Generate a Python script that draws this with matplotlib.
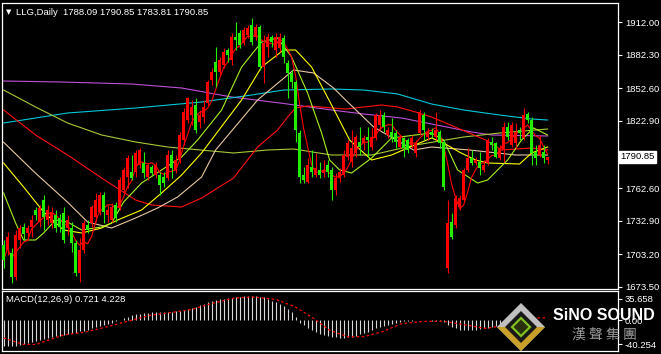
import numpy as np
import pandas as pd
import matplotlib.pyplot as plt
from matplotlib.patches import Polygon

# ---- daily candles ----
opens = [1711.3, 1706.8, 1704.1, 1682.5, 1715.8, 1727.5, 1722.1, 1727.5, 1742.8, 1732.0,
         1751.8, 1733.8, 1731.1, 1738.3, 1735.6, 1740.1, 1726.6, 1726.6, 1713.1, 1686.1,
         1706.8, 1729.3, 1731.1, 1736.5, 1741.0, 1756.3, 1738.3, 1733.8, 1747.3, 1744.6,
         1760.8, 1772.5, 1777.0, 1777.0, 1783.3, 1785.1, 1772.5, 1781.5, 1774.3, 1774.3,
         1772.5, 1771.6, 1792.3, 1778.8, 1787.8, 1805.8, 1823.8, 1828.3, 1837.3, 1822.0,
         1826.5, 1839.1, 1859.8, 1876.0, 1867.0, 1873.3, 1886.8, 1877.8, 1898.5, 1902.1,
         1893.1, 1900.3, 1909.3, 1898.5, 1907.5, 1871.5, 1889.5, 1898.5, 1886.8, 1888.6,
         1897.6, 1875.1, 1866.1, 1858.0, 1812.1, 1774.3, 1768.0, 1781.5, 1774.3, 1778.8,
         1776.1, 1783.3, 1778.8, 1760.8, 1771.6, 1774.3, 1790.5, 1786.0, 1794.1, 1804.0,
         1803.1, 1808.5, 1799.5, 1807.6, 1819.3, 1828.3, 1810.3, 1813.0, 1812.1, 1799.5,
         1807.6, 1805.8, 1801.3, 1794.1, 1812.1, 1828.3, 1808.5, 1813.0, 1808.5, 1813.0,
         1804.0, 1690.6, 1732.0, 1729.3, 1745.5, 1751.8, 1778.8, 1789.6, 1785.1, 1786.0,
         1778.8, 1785.1, 1804.0, 1803.1, 1789.6, 1796.8, 1817.5, 1801.3, 1803.1, 1814.8,
         1807.6, 1829.2, 1823.8, 1795.0, 1792.3, 1795.0, 1788.09]
highs = [1715.8, 1723.0, 1708.6, 1724.8, 1729.3, 1731.1, 1729.3, 1738.3, 1745.5, 1747.3,
         1756.3, 1747.3, 1745.5, 1742.8, 1739.2, 1745.5, 1738.3, 1732.0, 1715.8, 1717.6,
         1733.8, 1733.8, 1747.3, 1758.1, 1759.0, 1759.0, 1747.3, 1749.1, 1750.0, 1772.5,
         1781.5, 1792.3, 1792.3, 1796.8, 1798.6, 1795.0, 1785.1, 1783.3, 1786.0, 1777.0,
         1777.0, 1796.8, 1796.8, 1792.3, 1813.0, 1834.6, 1844.5, 1841.8, 1843.6, 1832.8,
         1841.8, 1859.8, 1870.6, 1889.5, 1880.5, 1888.6, 1888.6, 1902.1, 1912.0, 1904.8,
         1907.5, 1909.3, 1915.6, 1910.2, 1909.3, 1900.3, 1902.1, 1900.3, 1902.1, 1902.1,
         1900.3, 1877.8, 1868.8, 1859.8, 1814.8, 1781.5, 1789.6, 1796.8, 1794.1, 1786.0,
         1787.8, 1787.8, 1781.5, 1776.1, 1780.6, 1796.8, 1805.8, 1814.8, 1810.3, 1817.5,
         1810.3, 1817.5, 1816.6, 1830.1, 1832.8, 1831.0, 1817.5, 1825.6, 1814.8, 1810.3,
         1808.5, 1807.6, 1810.3, 1805.8, 1832.8, 1831.0, 1816.6, 1816.6, 1831.0, 1814.8,
         1805.8, 1751.8, 1740.1, 1756.3, 1756.3, 1780.6, 1798.6, 1796.8, 1790.5, 1795.0,
         1787.8, 1807.6, 1808.5, 1804.0, 1801.3, 1822.0, 1822.0, 1822.0, 1821.1, 1817.5,
         1834.6, 1831.0, 1826.5, 1801.3, 1810.3, 1801.3, 1790.85]
lows = [1690.6, 1702.3, 1677.1, 1679.8, 1708.6, 1715.8, 1715.8, 1718.5, 1733.8, 1727.5,
        1724.8, 1729.3, 1726.6, 1723.0, 1723.0, 1713.1, 1720.3, 1705.0, 1683.4, 1678.0,
        1704.1, 1722.1, 1727.5, 1732.0, 1738.3, 1731.1, 1732.0, 1732.0, 1732.0, 1742.8,
        1758.1, 1762.6, 1769.8, 1772.5, 1780.6, 1771.6, 1769.8, 1774.3, 1771.6, 1756.3,
        1763.5, 1769.8, 1771.6, 1776.1, 1785.1, 1801.3, 1821.1, 1819.3, 1812.1, 1816.6,
        1821.1, 1837.3, 1855.3, 1853.5, 1864.3, 1870.6, 1876.0, 1873.3, 1886.8, 1888.6,
        1891.3, 1897.6, 1891.3, 1895.8, 1868.8, 1857.1, 1880.5, 1889.5, 1880.5, 1885.0,
        1875.1, 1843.6, 1852.6, 1804.0, 1767.1, 1767.1, 1767.1, 1772.5, 1772.5, 1771.6,
        1772.5, 1772.5, 1751.8, 1756.3, 1768.0, 1772.5, 1787.8, 1781.5, 1790.5, 1792.3,
        1796.8, 1790.5, 1796.8, 1805.8, 1814.8, 1813.0, 1807.6, 1804.0, 1798.6, 1798.6,
        1790.5, 1794.1, 1798.6, 1790.5, 1810.3, 1805.8, 1805.8, 1807.6, 1805.8, 1798.6,
        1760.8, 1686.1, 1716.7, 1726.6, 1742.8, 1750.0, 1777.0, 1783.3, 1783.3, 1774.3,
        1777.0, 1783.3, 1796.8, 1789.6, 1787.8, 1786.0, 1805.8, 1799.5, 1798.6, 1805.8,
        1805.8, 1821.1, 1783.3, 1783.3, 1790.5, 1785.1, 1783.81]
closes = [1697.8, 1718.5, 1682.5, 1720.3, 1726.6, 1721.2, 1726.6, 1733.8, 1738.3, 1744.6,
          1736.5, 1742.8, 1741.0, 1726.6, 1727.5, 1715.8, 1733.8, 1713.1, 1686.1, 1706.8,
          1731.1, 1724.8, 1745.5, 1751.8, 1756.3, 1741.0, 1742.8, 1745.5, 1735.6, 1769.8,
          1778.8, 1789.6, 1771.6, 1794.1, 1796.8, 1776.1, 1783.3, 1776.1, 1783.3, 1765.3,
          1767.1, 1792.3, 1780.6, 1787.8, 1810.3, 1831.0, 1843.6, 1835.5, 1814.8, 1828.3,
          1835.5, 1858.0, 1867.0, 1867.0, 1877.8, 1885.0, 1882.3, 1898.5, 1895.8, 1891.3,
          1904.8, 1906.6, 1894.0, 1907.5, 1871.5, 1893.1, 1898.5, 1894.0, 1898.5, 1898.5,
          1880.5, 1866.1, 1858.0, 1814.8, 1772.5, 1769.8, 1783.3, 1777.0, 1780.6, 1774.3,
          1778.8, 1777.0, 1760.8, 1771.6, 1777.0, 1792.3, 1803.1, 1798.6, 1808.5, 1799.5,
          1807.6, 1805.8, 1808.5, 1828.3, 1828.3, 1817.5, 1814.8, 1808.5, 1804.0, 1808.5,
          1798.6, 1796.8, 1807.6, 1803.1, 1831.0, 1814.8, 1813.0, 1810.3, 1814.8, 1803.1,
          1763.5, 1731.1, 1718.5, 1753.6, 1753.6, 1778.8, 1789.6, 1785.1, 1787.8, 1780.6,
          1783.3, 1805.8, 1801.3, 1790.5, 1798.6, 1817.5, 1808.5, 1819.3, 1813.0, 1812.1,
          1828.3, 1823.8, 1794.1, 1789.6, 1801.3, 1789.6, 1790.85]

# ---- moving averages, read as (bar index, value) points ----
lime_i = [0, 3, 5, 8, 10, 13, 16, 19.5, 24.5, 27, 30, 34.5, 39.5, 44.5, 48.5, 54.5, 59.5, 64.5,
          68.5, 72, 76, 79.5, 81.5, 84, 87, 92, 97, 107, 110, 113.5, 118.5, 121, 126, 129.5, 132.5, 136]
lime_v = [1758.1, 1731.1, 1715.8, 1715.8, 1722.1, 1733.8, 1732.0, 1724.8, 1727.5, 1731.1, 1750.0,
          1767.1, 1778.8, 1790.5, 1805.8, 1832.8, 1871.5, 1894.0, 1897.6, 1880.5, 1848.1, 1812.1,
          1787.8, 1778.8, 1776.1, 1789.6, 1807.6, 1812.1, 1805.8, 1778.8, 1767.1, 1769.8, 1787.8,
          1805.8, 1816.6, 1810.3]
yel_i = [0, 5, 10, 15, 19.5, 24.5, 28.5, 34.5, 39.5, 44.5, 49.5, 59.5, 64.5, 70, 73, 77, 82,
         86.5, 92, 97, 101, 107, 110, 114, 118, 121, 129, 132, 136]
yel_v = [1785.1, 1763.5, 1741.0, 1724.8, 1722.1, 1726.6, 1733.8, 1742.8, 1758.1, 1774.3, 1794.1,
         1841.8, 1871.5, 1886.8, 1886.8, 1871.5, 1837.3, 1805.8, 1787.8, 1792.3, 1798.6, 1807.6,
         1803.1, 1794.8, 1787.8, 1785.1, 1784.2, 1794.1, 1799.5]
tan_i = [0, 8, 16, 21, 27, 33, 38.5, 43.5, 49.5, 53, 63.5, 72.5, 77.5, 82.5, 85.5, 92.5, 102.5,
         107, 116.5, 128, 136]
tan_v = [1803.8, 1775.9, 1749.8, 1732.0, 1726.6, 1735.6, 1744.6, 1754.5, 1772.5, 1796.8, 1841.8,
         1868.8, 1866.1, 1852.6, 1841.8, 1817.5, 1796.8, 1799.5, 1796.8, 1792.3, 1792.3]
red_i = [0, 8, 16, 24.5, 33, 37, 44.5, 49.5, 57.5, 63.5, 68.5, 71, 73, 76, 85.5, 94.5, 98.5,
         103, 107, 120.5, 124.5, 132, 136]
red_v = [1832.8, 1810.3, 1792.3, 1771.6, 1751.8, 1747.3, 1745.5, 1753.6, 1771.6, 1799.5, 1814.8,
         1826.5, 1834.6, 1836.4, 1833.7, 1837.3, 1835.5, 1831.0, 1826.5, 1805.8, 1796.8, 1798.6,
         1796.8]
olive_i = [0, 8, 16, 24.5, 33, 41, 57.5, 66, 72.5, 82, 92, 103, 115, 124, 136]
olive_v = [1850.8, 1835.5, 1821.1, 1810.3, 1804.0, 1799.5, 1794.1, 1796.8, 1797.7, 1792.3, 1792.3,
           1801.3, 1808.5, 1812.1, 1815.7]
cyan_i = [0, 16, 33, 49.5, 62, 70, 82, 90, 98.5, 107, 115, 124, 132, 136]
cyan_v = [1821.1, 1830.1, 1834.6, 1840.0, 1846.3, 1850.8, 1851.7, 1850.8, 1847.2, 1838.2, 1832.8,
          1828.3, 1824.7, 1823.8]
mag_i = [0, 14.5, 32, 44.5, 57, 69.5, 82, 90, 99.5, 107, 117, 122, 136]
mag_v = [1858.9, 1858.0, 1856.2, 1852.6, 1844.5, 1838.9, 1832.8, 1829.2, 1825.6, 1820.2, 1813.0,
         1810.3, 1809.4]

# ---- MACD(12,26,9) ----
macd = [-43, -44, -44, -43, -42, -40, -39, -37, -35, -33,
        -31, -30, -28, -27, -26, -25, -24, -22, -21, -19,
        -18, -16, -14, -12, -10, -8, -6, -4, -2, 1,
        4, 6, 8, 10, 11, 12, 12, 13, 13, 13,
        13, 14, 14, 15, 15, 17, 19, 21, 22, 25,
        28, 30, 32, 34, 35, 36, 37, 38, 39, 39,
        40, 40, 40, 40, 39, 39, 36, 33, 30, 28,
        23, 18, 14, 5, -4, -9, -13, -17, -20, -23,
        -25, -27, -28, -29, -30, -30, -29, -28, -26, -24,
        -22, -20, -17, -14, -12, -10, -8, -6, -5, -3,
        -2, -1, -1, 0, 0, 0, -0.5, -1, -1, -2,
        -3, -8, -11, -14, -16, -17, -17, -17, -16, -15,
        -14, -13, -11, -10, -8, -6, -4, -3, -2, -1,
        1, 2, 2, 1.5, 1, 0.8, 0.721]
sig_i = [0, 5, 8, 15, 20.5, 26, 31, 36.5, 42, 47, 52, 57.5, 62.5, 68, 73, 77.5, 81.5, 86, 90,
         94.5, 99.5, 105, 110, 115.5, 120.5, 126, 131, 136]
sig_v = [-30, -41, -41, -25, -20, -11, -2, 8, 13, 18, 28, 37, 39, 35, 22, 3, -17, -28, -28,
         -20, -6, -2, -2, -8, -14, -8, 3, 4.228]

price_ticks = [1912.00, 1882.30, 1852.60, 1822.90, 1762.60, 1732.90, 1703.20, 1673.50]
macd_ticks = [35.658, 0.0, -40.254]
macd_labels = ['35.658', '0.00', '-40.254']

opens, highs, lows, closes = map(np.array, (opens, highs, lows, closes))
n = len(closes)
idx = np.arange(n)

W, H = 661, 354
FONT = 'Liberation Sans'
RED, GREEN = '#ff0000', '#22ee00'

def box(x0, y0, x1, y1):
    return [x0 / W, 1 - y1 / H, (x1 - x0) / W, (y1 - y0) / H]

fig = plt.figure(figsize=(W / 100, H / 100), dpi=100, facecolor='black')
ax = fig.add_axes(box(2, 3, 618, 289), facecolor='black')
axm = fig.add_axes(box(2, 291, 618, 351), facecolor='black')

for a in (ax, axm):
    a.set_xlim(-0.4, 153.6)
    a.set_xticks([])
    a.yaxis.tick_right()
    a.tick_params(axis='y', colors='white', length=3, width=0.8, pad=2, labelsize=6.8)
    for s in a.spines.values():
        s.set_color('white')
        s.set_linewidth(0.9)
    for lab in a.get_yticklabels():
        lab.set_fontfamily(FONT)

# moving averages
ma5 = pd.Series(closes).rolling(5, min_periods=1).mean()
lw = 0.8
ax.plot(mag_i, mag_v, color='#c050d8', lw=lw)
ax.plot(cyan_i, cyan_v, color='#00c8d8', lw=lw)
ax.plot(olive_i, olive_v, color='#a8c838', lw=lw)
ax.plot(red_i, red_v, color='#ff1010', lw=lw)
ax.plot(tan_i, tan_v, color='#e8c8a0', lw=lw)
ax.plot(yel_i, yel_v, color='#ffff00', lw=lw)
ax.plot(lime_i, lime_v, color='#a8f020', lw=lw)
ax.plot(idx, ma5, color='#ff0000', lw=lw)

# candles
col = np.where(closes >= opens, RED, GREEN)
ax.vlines(idx, lows, highs, colors=col, lw=0.8, zorder=3)
body_lo = np.minimum(opens, closes)
body_h = np.maximum(np.abs(closes - opens), 0.7)
ax.bar(idx, body_h, bottom=body_lo, width=0.72, color=col, lw=0, zorder=4)

ax.set_ylim(1671.7, 1929.1)
ax.set_yticks(price_ticks)
ax.set_yticklabels(['%.2f' % v for v in price_ticks], fontfamily=FONT)

last = closes[-1]
ax.text(1.004, last, '%.2f' % last, transform=ax.get_yaxis_transform(),
        ha='left', va='center', color='black', fontsize=6.8, fontfamily=FONT,
        bbox=dict(boxstyle='square,pad=0.15', fc='white', ec='white'), clip_on=False)

ax.text(0.023, 0.968, 'LLG,Daily  %.2f %.2f %.2f %.2f' % (opens[-1], highs[-1], lows[-1], closes[-1]),
        transform=ax.transAxes, color='white', fontsize=6.8, fontfamily=FONT, va='center')
ax.text(0.006, 0.968, '\u25bc', transform=ax.transAxes, color='white', fontsize=5, va='center')

# MACD panel
axm.vlines(idx, 0, macd, colors='#d8d8d8', lw=0.8)
axm.plot(sig_i, sig_v, color='#ff0000', lw=0.9, ls=(0, (2, 2)))
axm.set_ylim(-52.0, 49.07)
axm.set_yticks(macd_ticks)
axm.set_yticklabels(macd_labels, fontfamily=FONT)
axm.text(0.006, 0.85, 'MACD(12,26,9) %.3f %.3f' % (macd[-1], sig_v[-1]), transform=axm.transAxes,
         color='white', fontsize=6.8, fontfamily=FONT, va='center')

# logo overlay
ov = fig.add_axes([0, 0, 1, 1])
ov.set_xlim(0, W)
ov.set_ylim(H, 0)
ov.axis('off')
ov.add_patch(Polygon([(521, 303), (545, 327), (521, 351), (497, 327)], closed=True, fc='#c0c0c0', ec='none'))
ov.add_patch(Polygon([(497, 327), (545, 327), (521, 351)], closed=True, fc='#c8a028', ec='none'))
ov.add_patch(Polygon([(521, 311), (537, 327), (521, 343), (505, 327)], closed=True, fc='#181818', ec='none'))
ov.add_patch(Polygon([(521, 318), (530, 327), (521, 336), (512, 327)], closed=True, fc='#283010',
                     ec='#80c020', lw=1.6))
ov.text(604, 315, 'SiNO SOUND', color='white', fontsize=11.5, fontweight='bold',
        fontfamily=FONT, ha='center', va='center')
ov.text(604, 335, '漢 聲 集 團', color='#9a9a9a', fontsize=10,
        fontfamily=['Noto Sans CJK TC', 'DejaVu Sans'], ha='center', va='center')

fig.savefig('out.png', dpi=100, facecolor='black')
